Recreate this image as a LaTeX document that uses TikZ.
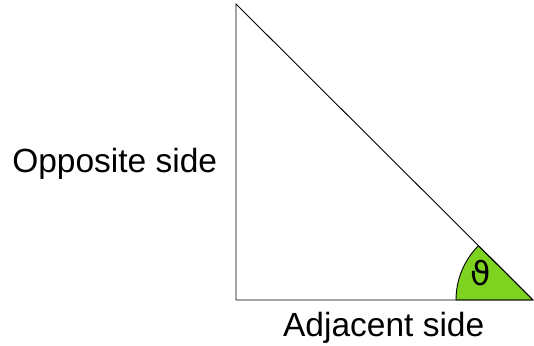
\documentclass[tikz,border=0pt]{standalone}
\usepackage{fontspec}
\setmainfont{Liberation Sans}
\newfontfamily\thetafont{DejaVu Sans}
\definecolor{anglegreen}{RGB}{126,211,33}
\begin{document}
\begin{tikzpicture}[x=1pt,y=1pt,
  side/.style={draw=black,line width=0.9pt},
  label/.style={inner sep=0pt,anchor=base,font=\fontsize{33.5}{40}\selectfont},
  sector/.style={fill=anglegreen,draw=black,line width=0.9pt}]
\useasboundingbox (0,0) rectangle (534,345);
\coordinate (A) at (236,341);
\coordinate (B) at (236,45);
\coordinate (C) at (533,45);
\fill[white] (A) -- (B) -- (C) -- cycle;
\path[sector] (C) -- ++(180:77) arc[start angle=180,end angle=135.1,radius=77] -- cycle;
\draw[side] (C) -- (A) -- (B) -- (C);
\node[inner sep=0pt,font=\thetafont\fontsize{33}{36}\selectfont] (theta) at (480.5,72) {ϑ};
\node[label] (opp) at (114.7,172.8) {Opposite side};
\node[label] (adj) at (383.7,8.3) {Adjacent side};
\end{tikzpicture}
\end{document}
